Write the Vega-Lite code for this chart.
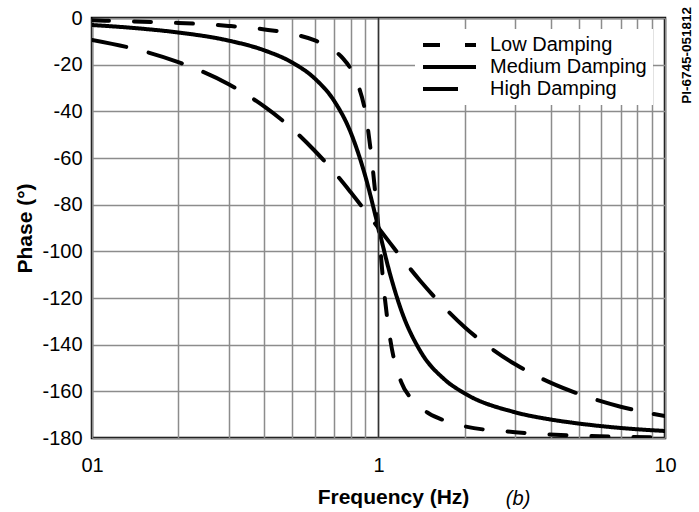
{
  "$schema": "https://vega.github.io/schema/vega-lite/v6.json",
  "width": 573,
  "height": 420,
  "autosize": {"type": "none"},
  "padding": {"left": 92, "top": 18, "right": 34, "bottom": 74},
  "config": {
    "font": "Liberation Sans",
    "view": {"stroke": "black", "strokeWidth": 2.5},
    "axis": {"grid": true, "gridColor": "#8c8c8c", "gridWidth": 1.5, "gridOpacity": 1, "ticks": false, "domain": false, "labelColor": "black", "titleColor": "black", "labelFontSize": 20, "titleFontSize": 21, "titleFontWeight": "bold"}
  },
  "title": {"text": "PI-6745-051812", "orient": "right", "anchor": "start", "angle": -90, "align": "right", "fontSize": 13.5, "fontWeight": "bold", "offset": 8, "dy": -18, "dx": 1, "color": "black"},
  "data": {
    "values": [
      {"f": 0.1, "phase": -1.0, "series": "Low Damping"},
      {"f": 0.15, "phase": -1.6, "series": "Low Damping"},
      {"f": 0.2, "phase": -2.1, "series": "Low Damping"},
      {"f": 0.3, "phase": -3.4, "series": "Low Damping"},
      {"f": 0.4, "phase": -4.9, "series": "Low Damping"},
      {"f": 0.5, "phase": -6.8, "series": "Low Damping"},
      {"f": 0.6, "phase": -9.6, "series": "Low Damping"},
      {"f": 0.7, "phase": -13.9, "series": "Low Damping"},
      {"f": 0.75, "phase": -17.2, "series": "Low Damping"},
      {"f": 0.8, "phase": -21.8, "series": "Low Damping"},
      {"f": 0.85, "phase": -28.9, "series": "Low Damping"},
      {"f": 0.9, "phase": -40.5, "series": "Low Damping"},
      {"f": 0.95, "phase": -62, "series": "Low Damping"},
      {"f": 1.0, "phase": -90, "series": "Low Damping"},
      {"f": 1.05, "phase": -119, "series": "Low Damping"},
      {"f": 1.1, "phase": -138, "series": "Low Damping"},
      {"f": 1.2, "phase": -156, "series": "Low Damping"},
      {"f": 1.3, "phase": -163, "series": "Low Damping"},
      {"f": 1.5, "phase": -169.5, "series": "Low Damping"},
      {"f": 1.7, "phase": -172.5, "series": "Low Damping"},
      {"f": 2.0, "phase": -175, "series": "Low Damping"},
      {"f": 3.0, "phase": -177.5, "series": "Low Damping"},
      {"f": 5.0, "phase": -179, "series": "Low Damping"},
      {"f": 7.0, "phase": -179.5, "series": "Low Damping"},
      {"f": 10.0, "phase": -179.8, "series": "Low Damping"},
      {"f": 0.1, "phase": -3.0, "series": "Medium Damping"},
      {"f": 0.15, "phase": -4.6, "series": "Medium Damping"},
      {"f": 0.2, "phase": -6.2, "series": "Medium Damping"},
      {"f": 0.3, "phase": -9.7, "series": "Medium Damping"},
      {"f": 0.4, "phase": -13.9, "series": "Medium Damping"},
      {"f": 0.5, "phase": -19.1, "series": "Medium Damping"},
      {"f": 0.6, "phase": -26.0, "series": "Medium Damping"},
      {"f": 0.7, "phase": -35.5, "series": "Medium Damping"},
      {"f": 0.8, "phase": -49.1, "series": "Medium Damping"},
      {"f": 0.9, "phase": -67.9, "series": "Medium Damping"},
      {"f": 1.0, "phase": -90, "series": "Medium Damping"},
      {"f": 1.1, "phase": -110.2, "series": "Medium Damping"},
      {"f": 1.2, "phase": -125.2, "series": "Medium Damping"},
      {"f": 1.4, "phase": -142.8, "series": "Medium Damping"},
      {"f": 1.7, "phase": -154.9, "series": "Medium Damping"},
      {"f": 2.0, "phase": -160.9, "series": "Medium Damping"},
      {"f": 3.0, "phase": -169.0, "series": "Medium Damping"},
      {"f": 4.0, "phase": -172.1, "series": "Medium Damping"},
      {"f": 5.0, "phase": -173.8, "series": "Medium Damping"},
      {"f": 7.0, "phase": -175.7, "series": "Medium Damping"},
      {"f": 10.0, "phase": -177.0, "series": "Medium Damping"},
      {"f": 0.1, "phase": -9.4, "series": "High Damping"},
      {"f": 0.15, "phase": -14.1, "series": "High Damping"},
      {"f": 0.2, "phase": -18.9, "series": "High Damping"},
      {"f": 0.3, "phase": -28.4, "series": "High Damping"},
      {"f": 0.4, "phase": -38.0, "series": "High Damping"},
      {"f": 0.5, "phase": -47.5, "series": "High Damping"},
      {"f": 0.6, "phase": -57.0, "series": "High Damping"},
      {"f": 0.7, "phase": -66.0, "series": "High Damping"},
      {"f": 0.8, "phase": -74.7, "series": "High Damping"},
      {"f": 0.9, "phase": -82.7, "series": "High Damping"},
      {"f": 1.0, "phase": -90, "series": "High Damping"},
      {"f": 1.1, "phase": -96.6, "series": "High Damping"},
      {"f": 1.2, "phase": -102.6, "series": "High Damping"},
      {"f": 1.4, "phase": -112.7, "series": "High Damping"},
      {"f": 1.7, "phase": -124.1, "series": "High Damping"},
      {"f": 2.0, "phase": -132.5, "series": "High Damping"},
      {"f": 2.5, "phase": -142.0, "series": "High Damping"},
      {"f": 3.0, "phase": -148.4, "series": "High Damping"},
      {"f": 4.0, "phase": -156.4, "series": "High Damping"},
      {"f": 5.0, "phase": -161.1, "series": "High Damping"},
      {"f": 7.0, "phase": -166.6, "series": "High Damping"},
      {"f": 10.0, "phase": -170.6, "series": "High Damping"}
    ]
  },
  "layer": [
    {
      "mark": {"type": "line", "color": "black", "strokeWidth": 4, "strokeCap": "round", "interpolate": "monotone", "clip": true},
      "encoding": {
        "x": {
          "field": "f", "type": "quantitative",
          "scale": {"type": "log", "domain": [0.1, 10]},
          "axis": {
            "title": "Frequency (Hz)",
            "values": [0.1, 0.2, 0.3, 0.4, 0.5, 0.6, 0.7, 0.8, 0.9, 1, 2, 3, 4, 5, 6, 7, 8, 9, 10],
            "labelExpr": "datum.value == 0.1 ? '01' : (datum.value == 1 ? '1' : (datum.value == 10 ? '10' : ''))",
            "labelFlush": false,
            "labelPadding": 17,
            "titlePadding": 11,
            "titleX": 301
          }
        },
        "y": {
          "field": "phase", "type": "quantitative",
          "scale": {"domain": [-180, 0], "nice": false},
          "axis": {
            "title": "Phase (°)",
            "values": [-180, -160, -140, -120, -100, -80, -60, -40, -20, 0],
            "labelExpr": "replace(datum.label, '−', '-')",
            "labelPadding": 10,
            "titlePadding": 6
          }
        },
        "strokeDash": {
          "field": "series", "type": "nominal",
          "scale": {"domain": ["Low Damping", "Medium Damping", "High Damping"], "range": [[17, 25], [1, 0], [35, 23]]},
          "legend": {
            "title": null, "orient": "none", "legendX": 323, "legendY": 11,
            "fillColor": "white", "padding": 6,
            "symbolType": "stroke", "symbolSize": 2809, "symbolStrokeWidth": 4, "symbolStrokeColor": "black",
            "labelFontSize": 20, "labelColor": "black", "labelOffset": 12, "clipHeight": 20, "rowPadding": 2
          }
        },
        "detail": {"field": "series"}
      }
    },
    {
      "data": {"values": [{}]},
      "mark": {"type": "rule", "color": "#333333", "strokeWidth": 1.5},
      "encoding": {"x": {"datum": 1, "type": "quantitative"}}
    },
    {
      "data": {"values": [{}]},
      "mark": {"type": "text", "text": "(b)", "fontStyle": "italic", "fontSize": 20, "color": "black"},
      "encoding": {
        "x": {"datum": 3.07, "type": "quantitative"},
        "y": {"datum": -206, "type": "quantitative"}
      }
    }
  ]
}
